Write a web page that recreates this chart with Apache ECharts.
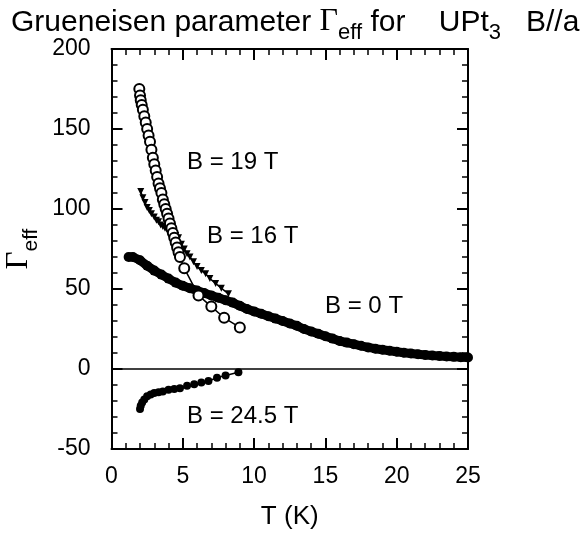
<!DOCTYPE html>
<html><head><meta charset="utf-8">
<script src="https://cdn.jsdelivr.net/npm/echarts@6/dist/echarts.min.js"></script>
<style>html,body{margin:0;padding:0;background:#fff}#c{width:584px;height:534px}</style>
</head><body><div id="c"></div>
<script>
// Data
const xTicks = [0, 5, 10, 15, 20, 25];
const yTicks = [-50, 0, 50, 100, 150, 200];
const b19 = [[1.95,175],[2.0,171],[2.05,168],[2.12,165],[2.2,162],[2.3,158],[2.4,154],[2.5,150],[2.6,146],[2.7,142],[2.8,137],[2.9,132],[3.0,128],[3.1,124],[3.2,120],[3.3,116],[3.4,113],[3.5,110],[3.6,106],[3.7,103],[3.8,100],[3.9,97],[4.0,94],[4.1,91],[4.2,88],[4.3,85],[4.4,82],[4.5,79],[4.6,76],[4.7,73],[4.8,70],[5.1,63],[6.1,46],[7.0,39],[7.9,32],[9.0,26]];
const b16 = [[2.05,111],[2.2,107],[2.35,104],[2.5,101],[2.65,99],[2.8,97],[3.0,95],[3.15,93],[3.3,92],[3.45,90],[3.6,89],[3.75,88],[3.9,87],[4.05,86],[4.2,85],[4.35,84],[4.5,83.5],[4.7,82],[4.9,78],[5.1,75],[5.3,72],[5.5,70],[5.75,67],[6.0,64],[6.3,61.5],[6.6,59.5],[6.9,56.5],[7.3,53.5],[7.7,50.5],[8.2,47]];
const b0 = [[1.2,70],[1.5,70],[2,68],[2.5,64.5],[3,61.5],[3.5,59],[4,56.5],[4.5,54],[5,52],[5.5,50.5],[6,49],[6.5,47.5],[7,46],[7.5,44.5],[8,43],[8.5,41.5],[9,39.5],[9.5,37.5],[10,36],[10.5,34.5],[11,33],[11.5,31.5],[12,30],[12.5,28.5],[13,27],[13.5,25],[14,23.5],[14.5,22],[15,20.5],[15.5,19],[16,17.5],[16.5,16.5],[17,15.5],[17.5,14.5],[18,13.5],[18.5,12.7],[19,12],[19.5,11.4],[20,10.8],[20.5,10.2],[21,9.7],[21.5,9.2],[22,8.8],[22.5,8.4],[23,8.1],[23.5,7.8],[24,7.6],[24.5,7.4],[25,7.2]];
const b245 = [[2.0,-25],[2.05,-23],[2.15,-21],[2.3,-19],[2.5,-17],[2.75,-16],[3.0,-15],[3.3,-14.5],[3.6,-14],[4.0,-13],[4.4,-12.5],[4.8,-12],[5.3,-10.5],[5.8,-9.5],[6.3,-8.5],[6.8,-7.5],[7.4,-5.5],[8.0,-4],[8.9,-2]];
const labels = ['B = 19 T', 'B = 16 T', 'B = 0 T', 'B = 24.5 T'];

const FONT = '"Liberation Sans", Arial, Helvetica, sans-serif';
const SERIF = '"Liberation Serif", "Times New Roman", serif';
const chart = echarts.init(document.getElementById('c'));
const axisCommon = {
  axisLine: {show: true, onZero: false, lineStyle: {color: '#000', width: 2}},
  axisTick: {show: true, inside: true, length: 11, lineStyle: {color: '#000', width: 2}},
  minorTick: {show: true, splitNumber: 5, length: 6, lineStyle: {color: '#000', width: 1.5}},
  splitLine: {show: false}
};
chart.setOption({
  animation: false,
  backgroundColor: '#fff',
  title: {
    text: '{a|Grueneisen parameter }{g|Γ}{s|eff}{a| for    UPt}{s|3}{a|   B//a}',
    left: 6, top: -3,
    textStyle: {
      fontWeight: 'normal',
      rich: {
        a: {fontFamily: FONT, fontSize: 30, fontWeight: 'normal', color: '#000', lineHeight: 36, verticalAlign: 'bottom'},
        g: {fontFamily: SERIF, fontSize: 32, fontWeight: 'normal', color: '#000', lineHeight: 36, verticalAlign: 'bottom'},
        s: {fontFamily: FONT, fontSize: 22, fontWeight: 'normal', color: '#000', lineHeight: 36, verticalAlign: 'bottom', padding: [0,0,-6,0]}
      }
    }
  },
  grid: {left: 111.5, top: 49, right: 116, bottom: 85, containLabel: false, outerBoundsMode: 'none'},
  xAxis: [
    Object.assign({}, axisCommon, {
      type: 'value', min: 0, max: 25, interval: 5, position: 'bottom',
      axisLabel: {show: true, margin: 16, fontFamily: FONT, fontSize: 23, color: '#000', formatter: v => xTicks.includes(v) ? String(v) : ''},
      name: 'T (K)', nameLocation: 'middle', nameGap: 55,
      nameTextStyle: {fontFamily: FONT, fontSize: 26, color: '#000'}
    }),
    Object.assign({}, axisCommon, {
      type: 'value', min: 0, max: 25, interval: 5, position: 'top',
      axisLabel: {show: false}
    })
  ],
  yAxis: [
    Object.assign({}, axisCommon, {
      type: 'value', min: -50, max: 200, interval: 50, position: 'left',
      axisLabel: {show: true, margin: 21, fontFamily: FONT, fontSize: 23, color: '#000', formatter: v => yTicks.includes(v) ? String(v) : ''},
      name: '{g|Γ}{s|eff}', nameLocation: 'middle', nameGap: 70, nameRotate: 90,
      nameTextStyle: {
        rich: {
          g: {fontFamily: SERIF, fontSize: 31, color: '#000', lineHeight: 34, verticalAlign: 'bottom'},
          s: {fontFamily: FONT, fontSize: 21, color: '#000', lineHeight: 34, verticalAlign: 'bottom', padding: [0,0,-7,0]}
        }
      }
    }),
    Object.assign({}, axisCommon, {
      type: 'value', min: -50, max: 200, interval: 50, position: 'right',
      axisLabel: {show: false}
    })
  ],
  series: [
    {
      type: 'line', data: [[0,0],[25,0]], symbol: 'none', silent: true,
      lineStyle: {color: '#000', width: 1.5}, z: 1
    },
    {
      name: labels[2], type: 'line', data: b0, symbol: 'circle', symbolSize: 10, showAllSymbol: true,
      itemStyle: {color: '#000'}, lineStyle: {color: '#000', width: 9}, z: 2
    },
    {
      name: labels[1], type: 'line', data: b16, symbol: 'triangle', symbolRotate: 180, symbolSize: 7, showAllSymbol: true,
      itemStyle: {color: '#000'}, lineStyle: {color: '#000', width: 1.5}, z: 3
    },
    {
      name: labels[0], type: 'line', data: b19, symbol: 'circle', symbolSize: 10, showAllSymbol: true,
      itemStyle: {color: '#fff', borderColor: '#000', borderWidth: 2}, lineStyle: {color: '#000', width: 1.5}, z: 4
    },
    {
      name: labels[3], type: 'line', data: b245, symbol: 'circle', symbolSize: 8, showAllSymbol: true,
      itemStyle: {color: '#000'}, lineStyle: {color: '#000', width: 1.5}, z: 4
    }
  ],
  graphic: [
    {type: 'text', left: 187, top: 150, style: {text: labels[0], font: '24px ' + FONT, fill: '#000'}},
    {type: 'text', left: 207, top: 224, style: {text: labels[1], font: '24px ' + FONT, fill: '#000'}},
    {type: 'text', left: 325, top: 294, style: {text: labels[2], font: '24px ' + FONT, fill: '#000'}},
    {type: 'text', left: 187, top: 404, style: {text: labels[3], font: '24px ' + FONT, fill: '#000'}}
  ]
});
</script></body></html>
